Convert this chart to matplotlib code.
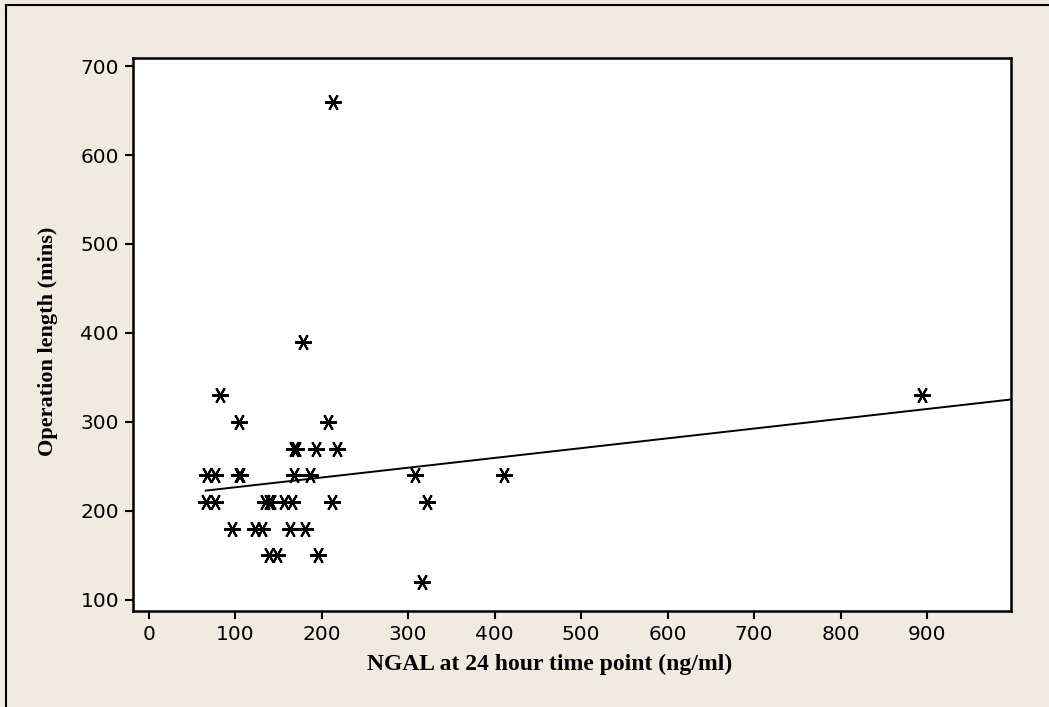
import matplotlib
matplotlib.use("Agg")
import matplotlib.pyplot as plt
import numpy as np

# NGAL at 24 h (ng/ml) vs operation length (mins)
ngal = [213, 179, 82, 894, 105, 207,
        168, 171, 194, 218,
        67, 77, 104, 106, 168, 187, 308, 411,
        66, 77, 135, 139, 142, 157, 166, 212, 322,
        97, 123, 131, 164, 181,
        139, 149, 196,
        316]
op_len = [660, 390, 330, 330, 300, 300,
          270, 270, 270, 270,
          240, 240, 240, 240, 240, 240, 240, 240,
          210, 210, 210, 210, 210, 210, 210, 210, 210,
          180, 180, 180, 180, 180,
          150, 150, 150,
          120]

# fitted line as drawn in the original
fit_intercept = 215.6
fit_slope = 0.110

x_ticks = [0, 100, 200, 300, 400, 500, 600, 700, 800, 900]
y_ticks = [100, 200, 300, 400, 500, 600, 700]

W, H = 1049, 707
bg = "#EFEBE1"
fig = plt.figure(figsize=(W / 100, H / 100), dpi=100, facecolor=bg)
ax = fig.add_axes([133/W, 1 - 611/H, (1011-133)/W, (611-58)/H])
ax.set_facecolor("white")

ax.plot(ngal, op_len, linestyle="none", marker=(6, 2, 30), markersize=12,
        markeredgewidth=1.5, color="black")

xl = np.array([min(ngal), 1000])
ax.plot(xl, fit_intercept + fit_slope * xl, color="black", lw=1.4)

ax.set_xlim(-18, 997)
ax.set_ylim(87.6, 709)
ax.set_xticks(x_ticks)
ax.set_yticks(y_ticks)
ax.tick_params(direction="out", length=6, width=1.5, labelsize=14.5,
               top=False, right=False, pad=4)
for s in ax.spines.values():
    s.set_linewidth(1.8)

fig.text(550/W, 1 - 664/H, "NGAL at 24 hour time point (ng/ml)",
         family="Liberation Serif", weight="bold", fontsize=17,
         ha="center", va="center")
fig.text(48/W, 1 - 341/H, "Operation length (mins)",
         family="Liberation Serif", weight="bold", fontsize=16,
         ha="center", va="center", rotation=90)

# outer frame (top and left edges visible)
fig.add_artist(plt.Line2D([6/W, 6/W], [0, 1 - 5/H], color="black", lw=1.5,
                          transform=fig.transFigure))
fig.add_artist(plt.Line2D([6/W, 1], [1 - 5/H, 1 - 5/H], color="black", lw=1.5,
                          transform=fig.transFigure))

fig.savefig("out.png", dpi=100, facecolor=bg)
